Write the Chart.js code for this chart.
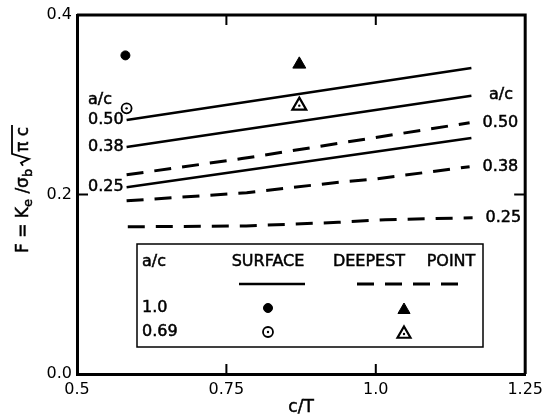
<!DOCTYPE html>
<html>
<head>
<meta charset="utf-8">
<script src="https://cdn.jsdelivr.net/npm/chart.js@4/dist/chart.umd.min.js"></script>
<style>
html, body { margin: 0; padding: 0; background: #fff; }
</style>
</head>
<body>
<canvas id="canvas" width="549" height="418"></canvas>
<script>
var xTicks = [0.5, 0.75, 1.0, 1.25];
var xTickLabels = ['0.5', '0.75', '1.0', '1.25'];
var yTicks = [0.0, 0.2, 0.4];
var yTickLabels = ['0.0', '0.2', '0.4'];

var ratioLabels = ['0.50', '0.38', '0.25'];

// SURFACE (solid)
var surfX = [0.583, 1.16];
var surf050 = [0.283, 0.341];
var surf038 = [0.253, 0.310];
var surf025 = [0.208, 0.263];

// DEEPEST POINT (dashed)
var deep050X = [0.583, 0.776, 1.157];
var deep050 = [0.222, 0.240, 0.280];
var deep038X = [0.583, 0.784, 0.942, 0.996, 1.157];
var deep038 = [0.193, 0.202, 0.214, 0.217, 0.231];
var deep025X = [0.585, 0.783, 0.937, 1.016, 1.162];
var deep025 = [0.164, 0.165, 0.169, 0.172, 0.174];

// a/c = 1.0 (filled) and 0.69 (open)
var ptSurfX = [0.581, 0.583];
var ptSurfY = [0.355, 0.296];
var ptDeepX = [0.872, 0.872];
var ptDeepY = [0.345, 0.299];

var FONT = '"DejaVu Sans"';
var DASH = [17, 11];

function pts(xs, ys) {
	return xs.map(function(x, i) { return { x: x, y: ys[i] }; });
}

function lineSet(xs, ys, dashed) {
	return {
		data: pts(xs, ys),
		showLine: true,
		borderColor: '#000',
		borderWidth: dashed ? 3 : 2.6,
		borderDash: dashed ? DASH : [],
		pointRadius: 0,
		fill: false
	};
}

// text with a slightly heavier stroke, like the scanned lettering
function txt(ctx, t, x, y) {
	ctx.fillText(t, x, y);
	ctx.strokeText(t, x, y);
}

function drawYTitle(ctx) {
	ctx.save();
	ctx.translate(21, 253);
	ctx.rotate(-Math.PI / 2);
	ctx.fillStyle = '#000';
	ctx.strokeStyle = '#000';
	ctx.lineWidth = 0.5;
	ctx.textBaseline = 'alphabetic';
	ctx.textAlign = 'left';
	var big = '17px ' + FONT, small = '13px ' + FONT;
	var x = 0, base = 7;
	function put(t, f, dy) {
		ctx.font = f;
		txt(ctx, t, x, base + dy);
		x += ctx.measureText(t).width;
	}
	put('F = K', big, 0);
	put('e', small, 4);
	put(' /\u03c3', big, 0);
	put('b', small, 4);
	x += 3;
	var start = x;
	x += 14;
	put('\u03c0 c', big, 0);
	var top = base - 16;
	ctx.lineWidth = 1.8;
	ctx.beginPath();
	ctx.moveTo(start, base - 5);
	ctx.lineTo(start + 3, base - 7);
	ctx.lineTo(start + 7, base + 1);
	ctx.lineTo(start + 12, top);
	ctx.lineTo(x + 2, top);
	ctx.stroke();
	ctx.restore();
}

var extras = {
	id: 'extras',
	afterDraw: function(chart) {
		var ctx = chart.ctx;
		var a = chart.chartArea;
		var xs = chart.scales.x, ys = chart.scales.y;
		ctx.save();
		ctx.strokeStyle = '#000';
		ctx.fillStyle = '#000';

		// top and right frame
		ctx.lineWidth = 3;
		ctx.beginPath();
		ctx.moveTo(a.left, a.top);
		ctx.lineTo(a.right, a.top);
		ctx.lineTo(a.right, a.bottom);
		ctx.stroke();

		// inner ticks
		ctx.lineWidth = 2;
		ctx.beginPath();
		xTicks.slice(1, -1).forEach(function(v) {
			var px = xs.getPixelForValue(v);
			ctx.moveTo(px, a.bottom); ctx.lineTo(px, a.bottom - 10);
			ctx.moveTo(px, a.top); ctx.lineTo(px, a.top + 10);
		});
		yTicks.slice(1, -1).forEach(function(v) {
			var py = ys.getPixelForValue(v);
			ctx.moveTo(a.left, py); ctx.lineTo(a.left + 11, py);
			ctx.moveTo(a.right, py); ctx.lineTo(a.right - 11, py);
		});
		ctx.stroke();

		// curve labels
		ctx.font = '16px ' + FONT;
		ctx.lineWidth = 0.5;
		ctx.textBaseline = 'middle';
		var starts = [surf050[0], surf038[0], surf025[0]];
		ctx.textAlign = 'right';
		starts.forEach(function(v, i) {
			txt(ctx, ratioLabels[i], xs.getPixelForValue(surfX[0]) - 3, ys.getPixelForValue(v));
		});
		ctx.textAlign = 'center';
		txt(ctx, 'a/c', 100, 100);
		var ends = [
			[deep050X[deep050X.length - 1], deep050[deep050.length - 1]],
			[deep038X[deep038X.length - 1], deep038[deep038.length - 1]],
			[deep025X[deep025X.length - 1], deep025[deep025.length - 1]]
		];
		ctx.textAlign = 'left';
		ends.forEach(function(e, i) {
			txt(ctx, ratioLabels[i], xs.getPixelForValue(e[0]) + 13, ys.getPixelForValue(e[1]));
		});
		txt(ctx, 'a/c', 489, 95);

		// legend box
		ctx.lineWidth = 1.5;
		ctx.fillStyle = '#fff';
		ctx.fillRect(137, 244, 346, 103);
		ctx.strokeRect(137, 244, 346, 103);
		ctx.fillStyle = '#000';
		ctx.lineWidth = 0.5;
		ctx.textAlign = 'left';
		txt(ctx, 'a/c', 142, 262);
		txt(ctx, '1.0', 142, 308);
		txt(ctx, '0.69', 142, 332);
		ctx.textAlign = 'center';
		txt(ctx, 'SURFACE', 268, 262);
		txt(ctx, 'DEEPEST', 369, 262);
		txt(ctx, 'POINT', 451, 262);
		ctx.lineWidth = 2.6;
		ctx.beginPath(); ctx.moveTo(239, 284); ctx.lineTo(305, 284); ctx.stroke();
		ctx.lineWidth = 3;
		ctx.setLineDash(DASH);
		ctx.beginPath(); ctx.moveTo(357, 284); ctx.lineTo(462, 284); ctx.stroke();
		ctx.setLineDash([]);
		var dp = Chart.helpers.drawPoint;
		ctx.lineWidth = 1;
		dp(ctx, { pointStyle: 'circle', radius: 4.5, rotation: 0, borderWidth: 1 }, 268, 308);
		ctx.fillStyle = '#fff'; ctx.lineWidth = 1.8;
		dp(ctx, { pointStyle: 'circle', radius: 5, rotation: 0, borderWidth: 1.8 }, 268, 332);
		ctx.fillStyle = '#000';
		dp(ctx, { pointStyle: 'circle', radius: 1.2, rotation: 0, borderWidth: 0 }, 268, 332);
		ctx.lineWidth = 1;
		dp(ctx, { pointStyle: 'triangle', radius: 7, rotation: 0, borderWidth: 1 }, 404, 310);
		ctx.fillStyle = '#fff'; ctx.lineWidth = 2.2;
		dp(ctx, { pointStyle: 'triangle', radius: 7.5, rotation: 0, borderWidth: 2.2 }, 404, 334);
		ctx.fillStyle = '#000';
		dp(ctx, { pointStyle: 'circle', radius: 1.2, rotation: 0, borderWidth: 0 }, 404, 334);

		// axis titles
		ctx.font = '17px ' + FONT;
		ctx.lineWidth = 0.5;
		ctx.textAlign = 'center';
		ctx.textBaseline = 'middle';
		txt(ctx, 'c/T', (a.left + a.right) / 2, 408);
		drawYTitle(ctx);
		ctx.restore();
	}
};

var tickFont = { family: 'DejaVu Sans', size: 16 };

var ctx = document.getElementById('canvas').getContext('2d');
var config = {
	type: 'scatter',
	data: {
		datasets: [
			// centre dots of open markers on top
			{ data: pts(ptSurfX.slice(1), ptSurfY.slice(1)), pointStyle: 'circle', pointRadius: 1.2, backgroundColor: '#000', borderWidth: 0 },
			{ data: pts(ptDeepX.slice(1), ptDeepY.slice(1)), pointStyle: 'circle', pointRadius: 1.2, backgroundColor: '#000', borderWidth: 0 },
			{ data: pts(ptSurfX.slice(0, 1), ptSurfY.slice(0, 1)), pointStyle: 'circle', pointRadius: 4.5, backgroundColor: '#000', borderColor: '#000', borderWidth: 1 },
			{ data: pts(ptSurfX.slice(1), ptSurfY.slice(1)), pointStyle: 'circle', pointRadius: 5, backgroundColor: '#fff', borderColor: '#000', borderWidth: 1.8 },
			{ data: pts(ptDeepX.slice(0, 1), ptDeepY.slice(0, 1)), pointStyle: 'triangle', pointRadius: 7.5, backgroundColor: '#000', borderColor: '#000', borderWidth: 1 },
			{ data: pts(ptDeepX.slice(1), ptDeepY.slice(1)), pointStyle: 'triangle', pointRadius: 8, backgroundColor: '#fff', borderColor: '#000', borderWidth: 2.2 },
			lineSet(surfX, surf050, false),
			lineSet(surfX, surf038, false),
			lineSet(surfX, surf025, false),
			lineSet(deep050X, deep050, true),
			lineSet(deep038X, deep038, true),
			lineSet(deep025X, deep025, true)
		]
	},
	options: {
		responsive: false,
		animation: false,
		layout: { padding: { top: 15, right: 21, left: 0, bottom: 0 } },
		plugins: { legend: { display: false }, tooltip: { enabled: false } },
		scales: {
			x: {
				type: 'linear',
				min: 0.5,
				max: 1.25,
				afterBuildTicks: function(scale) {
					scale.ticks = xTicks.map(function(v) { return { value: v }; });
				},
				afterFit: function(scale) { scale.height = 44; },
				grid: { display: false, drawTicks: false },
				border: { display: true, color: '#000', width: 3 },
				ticks: {
					color: '#000',
					font: tickFont,
					padding: 6,
					maxRotation: 0,
					autoSkip: false,
					callback: function(v) {
						var i = xTicks.indexOf(v);
						return i >= 0 ? xTickLabels[i] : '';
					}
				}
			},
			y: {
				type: 'linear',
				min: 0,
				max: 0.4,
				afterBuildTicks: function(scale) {
					scale.ticks = yTicks.map(function(v) { return { value: v }; });
				},
				afterFit: function(scale) { scale.width = 77; },
				grid: { display: false, drawTicks: false },
				border: { display: true, color: '#000', width: 3 },
				ticks: {
					color: '#000',
					font: tickFont,
					padding: 5,
					autoSkip: false,
					callback: function(v) {
						var i = yTicks.indexOf(v);
						return i >= 0 ? yTickLabels[i] : '';
					}
				}
			}
		}
	},
	plugins: [extras]
};
window.myChart = new Chart(ctx, config);
</script>
</body>
</html>
